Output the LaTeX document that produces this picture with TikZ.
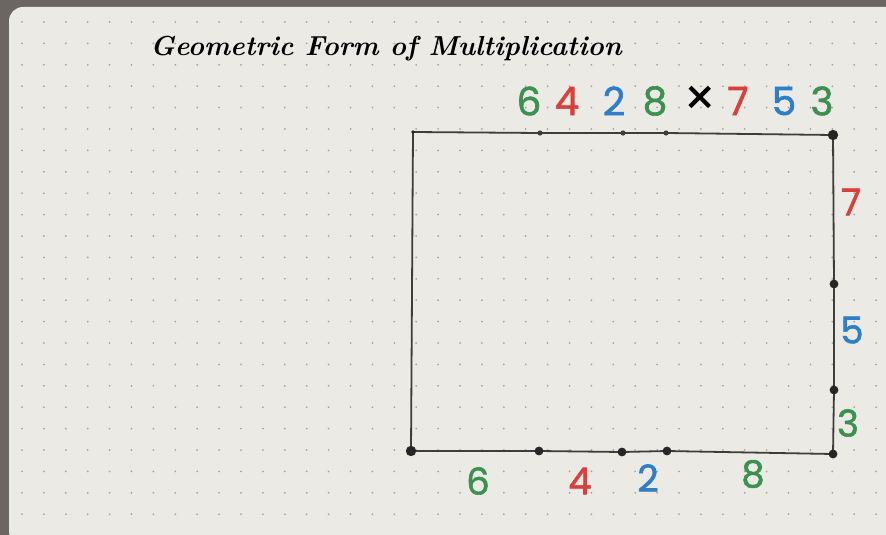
\documentclass[tikz,border=0pt]{standalone}
\usepackage{fontspec}
\usepackage{xcolor}
\newfontfamily\digitfont[FakeBold=1.6]{Poppins}
\newfontfamily\crossfont{Poppins}
\definecolor{pagecol}{HTML}{ECEAE5}
\definecolor{deskcol}{HTML}{6B6660}
\definecolor{gridcol}{HTML}{A9A59E}
\definecolor{pencol}{HTML}{3F3D3A}
\definecolor{mgreen}{HTML}{3C9150}
\definecolor{mred}{HTML}{D8403E}
\definecolor{mblue}{HTML}{2F7FC6}
\tikzset{
  pen/.style={draw=pencol, line width=1.8pt},
  bigdot/.style={fill=black!85},
  digit/.style={inner sep=0pt, font=\digitfont\fontsize{37}{40}\selectfont},
  topdigit/.style={digit, font=\digitfont\fontsize{39}{42}\selectfont}
}
\begin{document}
\begin{tikzpicture}[x=1pt, y=-1pt]
    \useasboundingbox (0,0) rectangle (886,535);
    % desk and page
    \fill[deskcol] (0,0) rectangle (886,535);
    \fill[pagecol, rounded corners=14pt] (9,7) rectangle (900,545);

    % dot grid
    \foreach \i in {0,...,39} {
        \foreach \j in {0,...,23} {
            \fill[gridcol] (22+21.9*\i, 22+21.4*\j) circle (1pt);
        }
    }

    % title
    \node (title) at (386,49) {\bfseries\itshape\fontsize{27.5}{32}\selectfont Geometric Form of Multiplication};

    % the factors
    \node[topdigit, text=mgreen] (f6) at (529,101) {6};
    \node[topdigit, text=mred]   (f4) at (567,101) {4};
    \node[topdigit, text=mblue]  (f2) at (614,101) {2};
    \node[topdigit, text=mgreen] (f8) at (655,101) {8};
    \node[inner sep=0pt, text=black, font=\crossfont\fontsize{52}{56}\selectfont] (times) at (700,101) {\symbol{"00D7}};
    \node[topdigit, text=mred]   (g7) at (738,101) {7};
    \node[topdigit, text=mblue]  (g5) at (784,101) {5};
    \node[topdigit, text=mgreen] (g3) at (822,101) {3};

    % rectangle corners and split points
    \coordinate (tl) at (413,132);
    \coordinate (t1) at (540,133);
    \coordinate (t2) at (623,133);
    \coordinate (t3) at (666,133);
    \coordinate (tr) at (833,135);
    \coordinate (r1) at (834,284);
    \coordinate (r2) at (834,390);
    \coordinate (br) at (833,454);
    \coordinate (b3) at (667,451);
    \coordinate (b2) at (622,452);
    \coordinate (b1) at (539,451);
    \coordinate (bl) at (411,451);

    \draw[pen] (tl) -- (t1) -- (t2) -- (t3) -- (tr) -- (r1) -- (r2) -- (br)
        -- (b3) -- (b2) -- (b1) -- (bl) -- cycle;

    \foreach \p in {t1,t2,t3} \fill[pencol] (\p) circle (2.6pt);
    \fill[bigdot] (tl) circle (1.8pt);
    \foreach \p in {tr,bl} \fill[bigdot] (\p) circle (5.2pt);
    \foreach \p in {r1,r2,br,b1,b2,b3} \fill[bigdot] (\p) circle (4.4pt);

    % bottom parts
    \node[digit, text=mgreen] (l6) at (478,481) {6};
    \node[digit, text=mred]   (l4) at (580,481) {4};
    \node[digit, text=mblue]  (l2) at (648,478) {2};
    \node[digit, text=mgreen] (l8) at (753,474) {8};

    % right parts
    \node[digit, text=mred]   (s7) at (851,202) {7};
    \node[digit, text=mblue]  (s5) at (852,330) {5};
    \node[digit, text=mgreen] (s3) at (848,423) {3};
\end{tikzpicture}
\end{document}
